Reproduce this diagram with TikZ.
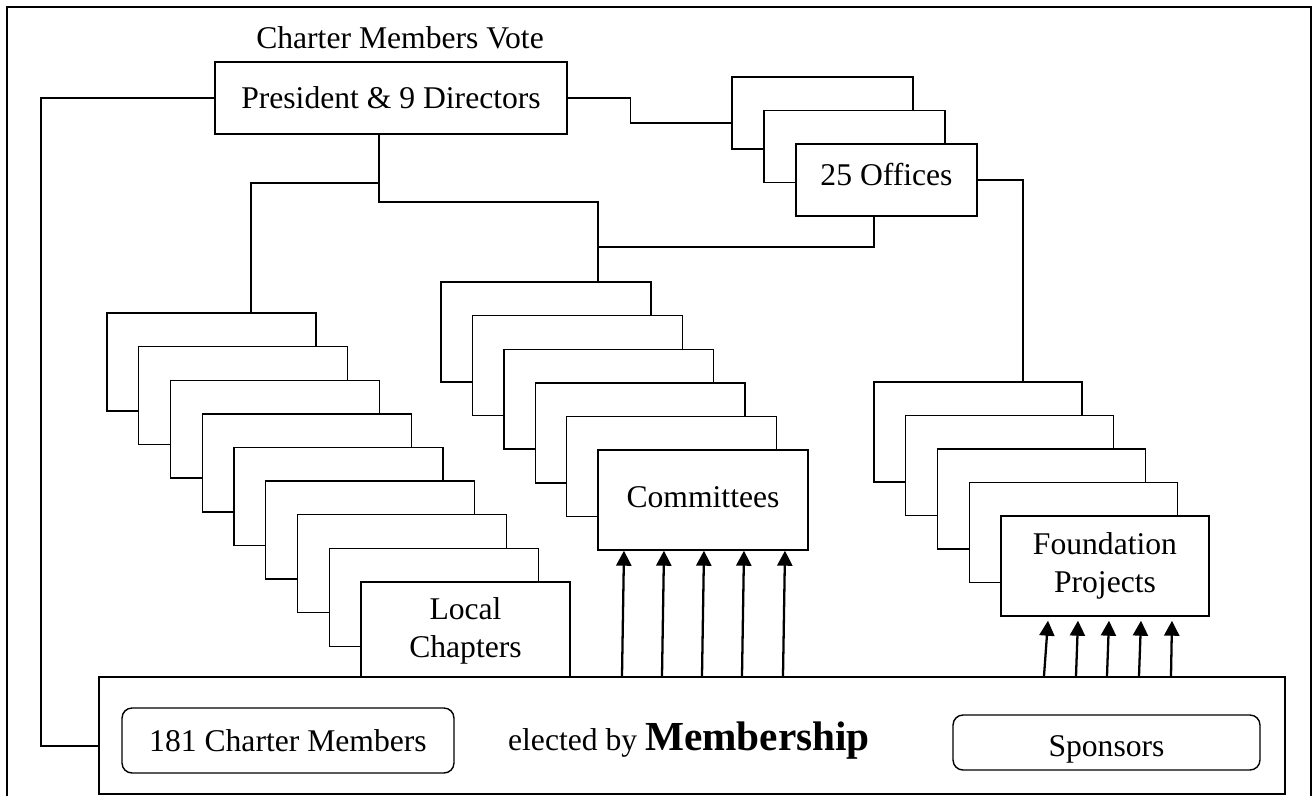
\documentclass[tikz,border=0pt]{standalone}
\usepackage{fontspec}
\setmainfont{Liberation Serif}
\usetikzlibrary{arrows.meta}

\tikzset{
  card/.style={draw, fill=white, line width=0.8pt, inner sep=0pt},
  pill/.style={draw, rounded corners=0.2cm, line width=0.8pt, inner sep=0pt},
  link/.style={line width=0.8pt},
  feed/.style={line width=1.3pt, -{Triangle[length=0.3cm,width=0.3cm]}},
  frame/.style={line width=1.1pt},
  txt/.style={font=\fontsize{18}{22}\selectfont, align=center, inner sep=0pt}
}

\begin{document}
\begin{tikzpicture}[x=0.02cm, y=-0.02cm]
    \useasboundingbox (0,0) rectangle (1313,796);
    \draw[frame] (7,796) |- (1311,7) -- (1311,796);

    \node[txt] (vote) at (400,38) {Charter Members Vote};
    \node[card, txt, minimum width=7.04cm, minimum height=1.44cm] (pres) at (391,98) {President \& 9 Directors};

    \foreach \i in {1,2,3}
    {
        \node[card, minimum width=3.62cm, minimum height=1.44cm] (of\i) at (
            {822.5 + 32*(\i-1)},
            {113 + 33.5*(\i-1)}
        ){};
    }
    \node[txt] (ofText) at ([yshift=0.1cm]of3) {25 Offices};

    \foreach \i in {1,...,9}
    {
        \node[card, minimum width=4.18cm, minimum height=1.96cm] (lc\i) at (
            {211.5 + 31.75*(\i-1)},
            {362 + 33.6*(\i-1)}
        ){};
    }
    \node[txt] (lcText) at (lc9) {Local\\Chapters};

    \foreach \i in {1,...,6}
    {
        \node[card, minimum width=4.2cm, minimum height=2cm] (cm\i) at (
            {546 + 31.4*(\i-1)},
            {332 + 33.6*(\i-1)}
        ){};
    }
    \node[txt] (cmText) at ([yshift=0.05cm]cm6) {Committees};

    \foreach \i in {1,...,5}
    {
        \node[card, minimum width=4.16cm, minimum height=2cm] (fp\i) at (
            {978 + 31.75*(\i-1)},
            {432 + 33.5*(\i-1)}
        ){};
    }
    \node[txt] (fpText) at (fp5) {Foundation\\Projects};

    \node[card, line width=1.1pt, minimum width=23.72cm, minimum height=2.34cm] (member) at (692,735.5) {};
    \node[pill, txt, minimum width=6.64cm, minimum height=1.3cm] (charter) at (288,740.5) {181 Charter Members};
    \node[pill, minimum width=6.14cm, minimum height=1.1cm] (sponsor) at (1106.5,742.5) {};
    \node[txt] (spText) at ([yshift=-0.14cm]sponsor) {Sponsors};
    \node[txt, anchor=base] (elect) at (689,750) {elected by {\fontsize{23.5}{26}\selectfont\bfseries Membership}};

    \coordinate (lTap) at (41,746);
    \coordinate (lcTap) at (251,183);
    \coordinate (cmTap) at (598,202);
    \coordinate (ofTap) at (598,247);
    \coordinate (fpTap) at (1023,183);
    \coordinate (pBot) at ([xshift=-0.24cm]pres.south);

    \draw[link] (pres.west) -| (lTap) -- (lTap -| member.west);
    \draw[link] (pres.east) -- ++(63,0) |- ([yshift=-0.2cm]of1.west);
    \draw[link] (pBot) |- (cmTap) -- (cmTap |- cm1.north);
    \draw[link] (pBot |- lcTap) -- (lcTap) -- (lcTap |- lc1.north);
    \draw[link] ([xshift=-0.25cm]of3.south) |- (ofTap);
    \draw[link] (of3.east) -| (fpTap) -- (fpTap |- fp1.north);

    \foreach \b/\t in {622/624, 662/664, 702/704, 742/744, 783/785}
    {
        \draw[feed] (member.north -| \b,0) -- (cm6.south -| \t,0);
    }
    \coordinate (fpTip) at ([yshift=-0.08cm]fp5.south);
    \foreach \b/\t in {1044/1048, 1076/1078, 1107/1109, 1139/1141, 1171/1172}
    {
        \draw[feed] (member.north -| \b,0) -- (fpTip -| \t,0);
    }
\end{tikzpicture}
\end{document}
